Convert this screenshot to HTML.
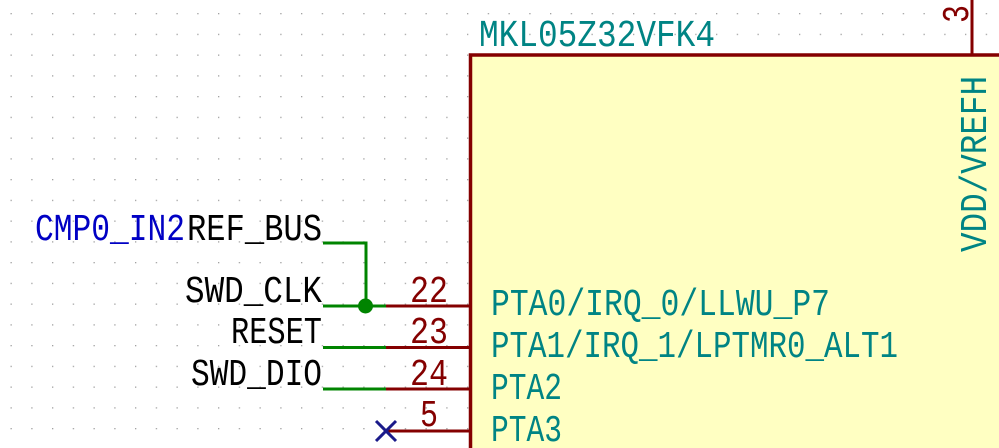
<!DOCTYPE html>
<html><head><meta charset="utf-8"><style>
html,body{margin:0;padding:0;background:#fff;width:999px;height:448px;overflow:hidden;}
svg{display:block;}
text{font-family:"Liberation Mono",monospace;font-size:38px;}
</style></head><body>
<svg width="999" height="448" viewBox="0 0 999 448" xmlns="http://www.w3.org/2000/svg" overflow="hidden">
<defs>
<pattern id="g" x="10.5" y="13" width="20.75" height="20.75" patternUnits="userSpaceOnUse">
<rect x="0" y="0" width="1.3" height="1.3" fill="#a0a0a0"/>
</pattern>
</defs>
<rect width="999" height="448" fill="url(#g)"/>
<rect x="470.5" y="55" width="528.5" height="393" fill="#ffffc2"/>
<polyline points="470.5,448 470.5,55 999,55" fill="none" stroke="#840000" stroke-width="3.5"/>
<line x1="972" y1="0" x2="972" y2="55" stroke="#840000" stroke-width="3"/>
<text transform="translate(968,23) rotate(-90)" fill="#840000" textLength="18" lengthAdjust="spacingAndGlyphs">3</text>
<text transform="translate(986,252) rotate(-90)" fill="#008484" textLength="176" lengthAdjust="spacingAndGlyphs">VDD/VREFH</text>
<text x="479" y="46" fill="#008484" textLength="236" lengthAdjust="spacingAndGlyphs">MKL05Z32VFK4</text>
<g stroke="#840000" stroke-width="3">
<line x1="386" y1="306" x2="470" y2="306"/>
<line x1="386" y1="347.5" x2="470" y2="347.5"/>
<line x1="386" y1="389" x2="470" y2="389"/>
<line x1="386" y1="431" x2="470" y2="431"/>
</g>
<g stroke="#008400" stroke-width="3" fill="none">
<line x1="323" y1="306" x2="386" y2="306"/>
<line x1="323" y1="347.5" x2="386" y2="347.5"/>
<line x1="323" y1="389" x2="386" y2="389"/>
<polyline points="323,243 366,243 366,306"/>
</g>
<circle cx="365.5" cy="306" r="7.5" fill="#008400"/>
<g stroke="#1a1a8a" stroke-width="3">
<line x1="376" y1="421" x2="396" y2="441"/>
<line x1="396" y1="421" x2="376" y2="441"/>
</g>
<g fill="#840000">
<text x="410" y="302" textLength="38" lengthAdjust="spacingAndGlyphs">22</text>
<text x="410" y="343" textLength="38" lengthAdjust="spacingAndGlyphs">23</text>
<text x="410" y="385" textLength="38" lengthAdjust="spacingAndGlyphs">24</text>
<text x="420" y="426" textLength="18" lengthAdjust="spacingAndGlyphs">5</text>
</g>
<g fill="#008484">
<text x="491" y="315" textLength="339" lengthAdjust="spacingAndGlyphs">PTA0/IRQ_0/LLWU_P7</text>
<text x="491" y="357" textLength="407" lengthAdjust="spacingAndGlyphs">PTA1/IRQ_1/LPTMR0_ALT1</text>
<text x="491" y="399" textLength="71" lengthAdjust="spacingAndGlyphs">PTA2</text>
<text x="491" y="441" textLength="71" lengthAdjust="spacingAndGlyphs">PTA3</text>
</g>
<text x="35" y="240" fill="#0000c4" textLength="150" lengthAdjust="spacingAndGlyphs">CMP0_IN2</text>
<g fill="#000">
<text x="187" y="240" textLength="135" lengthAdjust="spacingAndGlyphs">REF_BUS</text>
<text x="185" y="302" textLength="137" lengthAdjust="spacingAndGlyphs">SWD_CLK</text>
<text x="231" y="343" textLength="91" lengthAdjust="spacingAndGlyphs">RESET</text>
<text x="191" y="385" textLength="131" lengthAdjust="spacingAndGlyphs">SWD_DIO</text>
</g>
</svg>
</body></html>
